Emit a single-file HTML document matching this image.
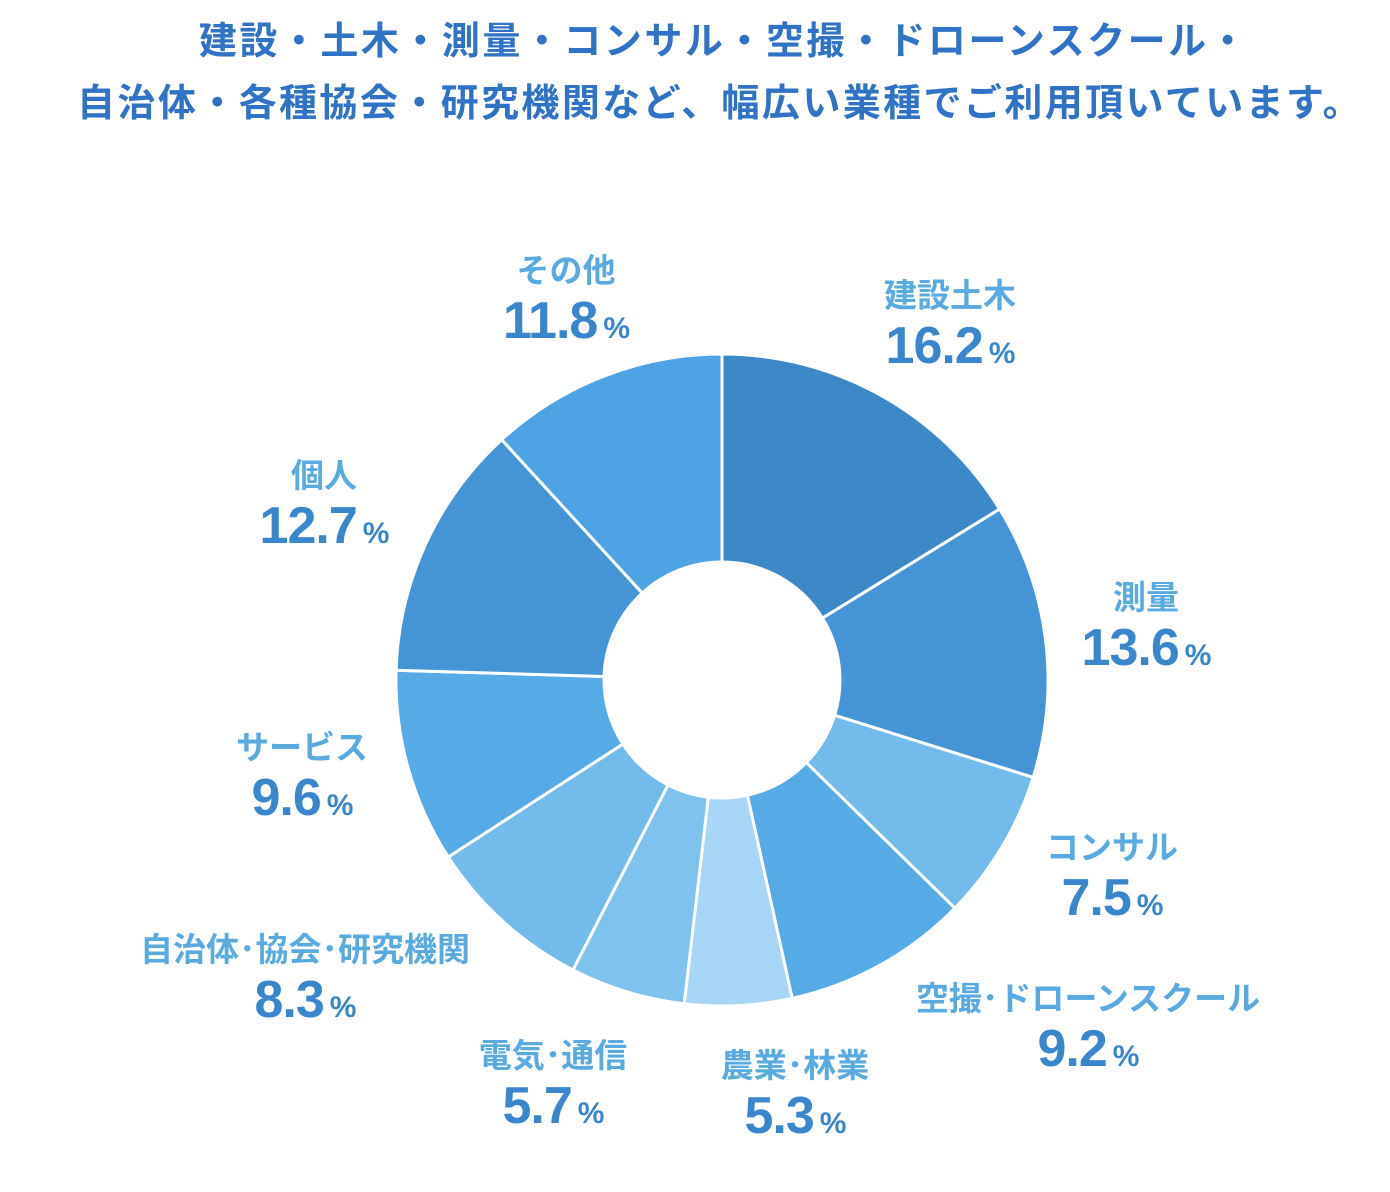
<!DOCTYPE html>
<html><head><meta charset="utf-8">
<style>
html,body{margin:0;padding:0;background:#fff;}
body{width:1390px;height:1192px;position:relative;overflow:hidden;font-family:"Liberation Sans","Noto Sans CJK JP",sans-serif;}
.t{position:absolute;left:0;width:1430px;text-align:center;color:#2f72c6;font-weight:bold;font-size:38px;white-space:nowrap;}
.lb{position:absolute;transform:translate(-50%,-50%);text-align:center;white-space:nowrap;}
.n{color:#5aaae2;font-weight:bold;font-size:33px;line-height:40px;}
.v{color:#3a86cc;font-weight:bold;font-size:52px;line-height:60px;letter-spacing:-1px;}
.v small{font-size:30px;margin-left:6px;}
svg{position:absolute;left:0;top:0;}
</style></head><body>
<div class="t" style="top:10px;left:9px;letter-spacing:2.5px">建設・土木・測量・コンサル・空撮・ドローンスクール・</div>
<div class="t" style="top:72px;left:5px;letter-spacing:2.4px">自治体・各種協会・研究機関など、幅広い業種でご利用頂いています。</div>
<svg id="s" width="1390" height="1192"></svg>
<div class="lb" style="left:566px;top:305px"><div class="n">その他</div><div class="v">11.8<small>%</small></div></div>
<div class="lb" style="left:950px;top:330px"><div class="n">建設土木</div><div class="v">16.2<small>%</small></div></div>
<div class="lb" style="left:324px;top:510px"><div class="n">個人</div><div class="v">12.7<small>%</small></div></div>
<div class="lb" style="left:1146px;top:632px"><div class="n">測量</div><div class="v">13.6<small>%</small></div></div>
<div class="lb" style="left:302px;top:782px"><div class="n">サービス</div><div class="v">9.6<small>%</small></div></div>
<div class="lb" style="left:1112px;top:882px"><div class="n">コンサル</div><div class="v">7.5<small>%</small></div></div>
<div class="lb" style="left:305px;top:984px"><div class="n">自治体･協会･研究機関</div><div class="v">8.3<small>%</small></div></div>
<div class="lb" style="left:1088px;top:1033px"><div class="n">空撮･ドローンスクール</div><div class="v">9.2<small>%</small></div></div>
<div class="lb" style="left:553px;top:1090px"><div class="n">電気･通信</div><div class="v">5.7<small>%</small></div></div>
<div class="lb" style="left:795px;top:1100px"><div class="n">農業･林業</div><div class="v">5.3<small>%</small></div></div>
<script>
var d=[[16.2,"#3d88c6"],[13.6,"#4494d6"],[7.5,"#72bbea"],[9.2,"#56aae6"],[5.3,"#a6d5f5"],[5.7,"#80c2ee"],[8.3,"#72bbea"],[9.6,"#56aae6"],[12.7,"#4494d6"],[11.8,"#4da3e3"]];
var cx=722,cy=680,R=326,r=118,tot=0;d.forEach(function(x){tot+=x[0];});
var a=0,h="";
function p(rad,ang){return [cx+rad*Math.sin(ang),cy-rad*Math.cos(ang)];}
d.forEach(function(x){var a0=a/tot*2*Math.PI;a+=x[0];var a1=a/tot*2*Math.PI;
var L=(a1-a0)>Math.PI?1:0;var p0=p(R,a0),p1=p(R,a1),q1=p(r,a1),q0=p(r,a0);
h+='<path d="M'+p0+' A'+R+' '+R+' 0 '+L+' 1 '+p1+' L'+q1+' A'+r+' '+r+' 0 '+L+' 0 '+q0+' Z" fill="'+x[1]+'" stroke="#fff" stroke-width="3"/>';});
document.getElementById("s").innerHTML=h;
</script>
</body></html>
